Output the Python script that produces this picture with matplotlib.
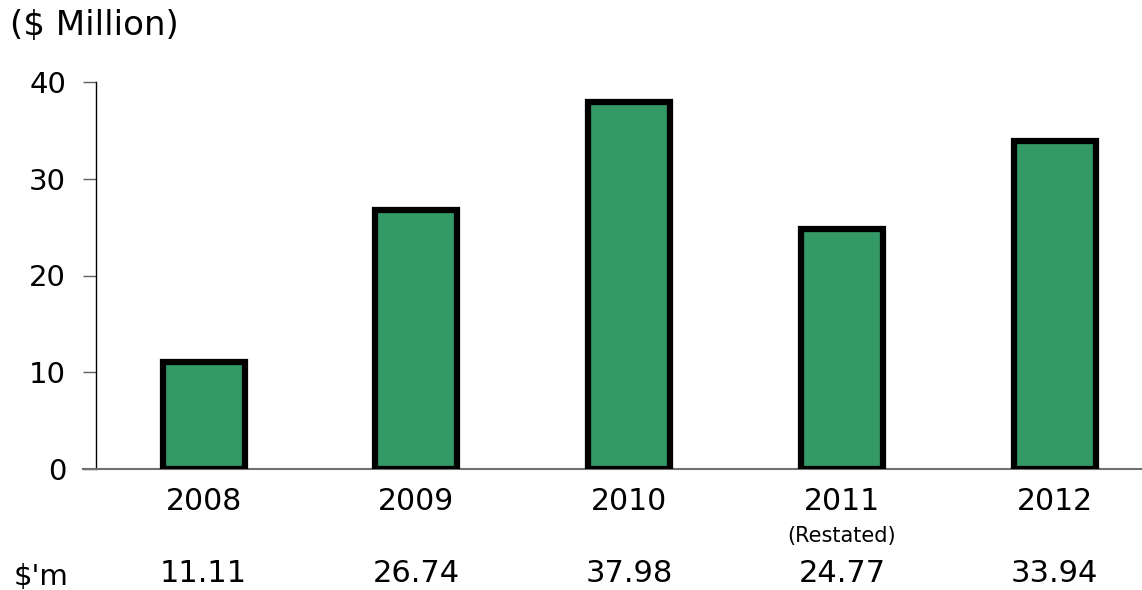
import matplotlib
matplotlib.use("Agg")
import matplotlib.pyplot as plt
from matplotlib.transforms import blended_transform_factory

plt.rcParams['font.family'] = ['DejaVu Sans']

years = ["2008", "2009", "2010", "2011", "2012"]
values = [11.11, 26.74, 37.98, 24.77, 33.94]
value_labels = ["11.11", "26.74", "37.98", "24.77", "33.94"]
yticks = [0, 10, 20, 30, 40]

fig = plt.figure(figsize=(11.42, 5.90), dpi=100)
ax = fig.add_axes([96/1142, 1-469/590, 1-96/1142, (469-82)/590])

x = list(range(len(years)))
ax.bar(x, values, width=0.385, color='#339966', edgecolor='black', linewidth=4.5, zorder=3)

ax.set_ylim(0, 40)
ax.set_xlim(-0.506, 4.41)
ax.set_yticks(yticks)
ax.set_yticklabels([str(t) for t in yticks], fontsize=21)
ax.tick_params(axis='y', length=9.5, width=1, color='#606060', pad=12)
ax.set_xticks([])

for s in ['top', 'right']:
    ax.spines[s].set_visible(False)
ax.spines['left'].set_color('black')
ax.spines['left'].set_linewidth(1)
ax.spines['bottom'].set_color('#707070')
ax.spines['bottom'].set_linewidth(1.5)
# extend baseline to the left like the reference
ax.plot([-0.506 - 13/212.6, -0.506], [0, 0], color='#707070', lw=1.5, clip_on=False)

tr = blended_transform_factory(ax.transData, fig.transFigure)
for i, y in enumerate(years):
    ax.text(i, 1-502/590, y, transform=tr, ha='center', va='center', fontsize=21.5)
    ax.text(i, 1-573/590, value_labels[i], transform=tr, ha='center', va='center', fontsize=22)
ax.text(3, 1-536/590, "(Restated)", transform=tr, ha='center', va='center', fontsize=15)

fig.text(14/1142, 1-577/590, "$'m", ha='left', va='center', fontsize=21)
fig.text(10/1142, 1-25/590, "($ Million)", ha='left', va='center', fontsize=24.5)

fig.savefig("out.png", dpi=100)
